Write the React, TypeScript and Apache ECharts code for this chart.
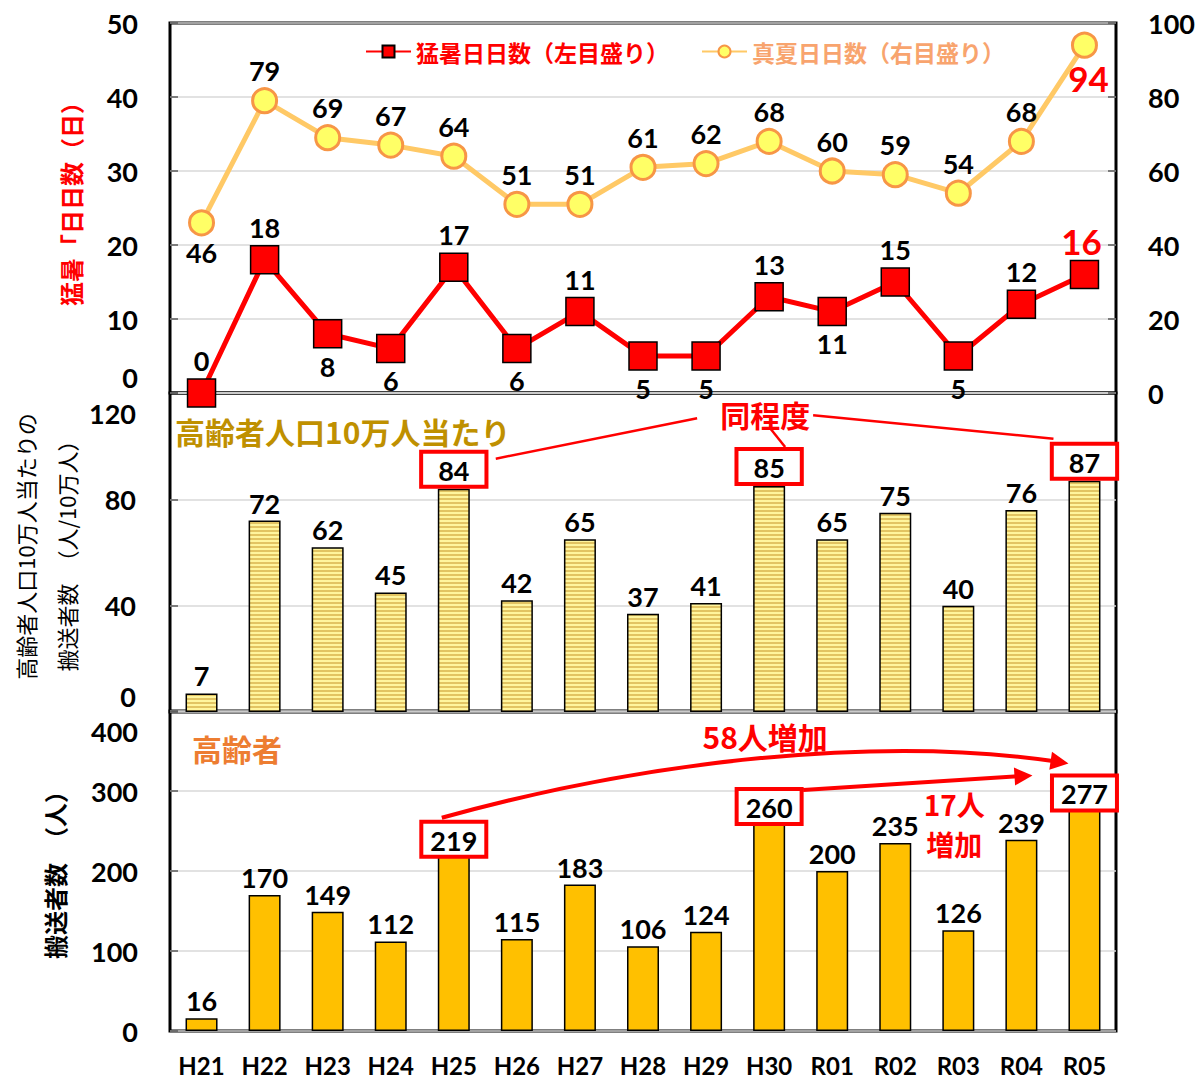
import React, { useEffect, useRef } from "react";
import * as echarts from "echarts";

const categories = ["H21", "H22", "H23", "H24", "H25", "H26", "H27", "H28", "H29", "H30", "R01", "R02", "R03", "R04", "R05"];
const extremeHeatDays = [0, 18, 8, 6, 17, 6, 11, 5, 5, 13, 11, 15, 5, 12, 16];
const midsummerDays = [46, 79, 69, 67, 64, 51, 51, 61, 62, 68, 60, 59, 54, 68, 94];
const ratePer100k = [7, 72, 62, 45, 84, 42, 65, 37, 41, 85, 65, 75, 40, 76, 87];
const elderlyTransported = [16, 170, 149, 112, 219, 115, 183, 106, 124, 260, 200, 235, 126, 239, 277];

const heatLabelPos = ["top", "top", "bottom", "bottom", "top", "bottom", "top", "bottom", "bottom", "top", "bottom", "top", "bottom", "top", "top"];
const summerLabelPos = ["bottom", "top", "top", "top", "top", "top", "top", "top", "top", "top", "top", "top", "top", "top", "bottom"];
const boxedIdx = [4, 9, 14];

const leftTicks = { min: 0, max: 50, interval: 10 };
const rightTicks = { min: 0, max: 100, interval: 20 };
const rateTicks = { min: 0, max: 120, interval: 40 };
const elderlyTicks = { min: 0, max: 400, interval: 100 };

const NUM_FONT = "Lato, 'Noto Sans CJK JP', sans-serif";
const JP_FONT = "'Noto Sans CJK JP', sans-serif";
const HEAT_NAME = "猛暑日日数（左目盛り）";
const SUMMER_NAME = "真夏日日数（右目盛り）";

function makeStripe(): HTMLCanvasElement {
  const c = document.createElement("canvas");
  c.width = 4;
  c.height = 4;
  const ctx = c.getContext("2d")!;
  ctx.fillStyle = "#FFF59D";
  ctx.fillRect(0, 0, 4, 2);
  ctx.fillStyle = "#E2C462";
  ctx.fillRect(0, 2, 4, 2);
  return c;
}

export default function App() {
  const ref = useRef<HTMLDivElement>(null);
  useEffect(() => {
    if (!ref.current) return;
    const chart = echarts.init(ref.current, undefined, { renderer: "svg" });
    const stripe = makeStripe();
    const gridL = 170;
    const gridW = 946;
    const lblStyle = { fontFamily: NUM_FONT, fontWeight: "bold" as const, fontSize: 27, color: "#000" };
    const axStyle = { fontFamily: NUM_FONT, fontWeight: "bold" as const, fontSize: 27, color: "#000" };

    const yLabel = (topShift: number, bottomShift: number, maxVal: number) => ({
      ...axStyle,
      formatter: (v: number) => (v === 0 && bottomShift ? "{dn|0}" : v === maxVal && topShift ? "{up|" + v + "}" : String(v)),
      rich: {
        dn: { ...axStyle, padding: [0, 0, bottomShift * 2, 0] },
        up: { ...axStyle, padding: [topShift * 2, 0, 0, 0] },
      },
    });

    const boxLabel = (pad: number) => ({
      backgroundColor: "#fff",
      borderColor: "#FF0000",
      borderWidth: 4,
      padding: [3, pad, 1, pad],
      distance: 4,
    });

    const option: any = {
      animation: false,
      backgroundColor: "#fff",
      legend: {
        left: 360,
        top: 35,
        itemWidth: 45,
        itemHeight: 15,
        itemGap: 32,
        textStyle: { fontFamily: JP_FONT, fontWeight: "bold", fontSize: 23 },
        data: [
          { name: HEAT_NAME, textStyle: { color: "#FF0000" } },
          { name: SUMMER_NAME, textStyle: { color: "#F8A46E" } },
        ],
      },
      grid: [
        { left: gridL, top: 23, width: gridW, height: 370, show: true, borderColor: "#000", borderWidth: 3 },
        { left: gridL, top: 393, width: gridW, height: 319, show: true, borderColor: "#000", borderWidth: 3 },
        { left: gridL, top: 711, width: gridW, height: 320, show: true, borderColor: "#000", borderWidth: 3 },
      ],
      xAxis: [0, 1, 2].map((g) => ({
        type: "category",
        gridIndex: g,
        data: categories,
        boundaryGap: true,
        axisLine: { show: false },
        axisTick: { show: false },
        axisLabel:
          g === 2
            ? { show: true, fontFamily: NUM_FONT, fontWeight: "bold", fontSize: 24, color: "#000", margin: 22 }
            : { show: false },
      })),
      yAxis: [
        {
          type: "value", gridIndex: 0, position: "left", ...leftTicks,
          axisLine: { show: false },
          axisTick: { show: true, inside: true, length: 8, lineStyle: { color: "#595959", width: 1.5 } },
          splitLine: { show: true, lineStyle: { color: "#D9D9D9", width: 1.5 } },
          axisLabel: { ...yLabel(0, 16, 50), margin: 32 },
        },
        {
          type: "value", gridIndex: 0, position: "right", ...rightTicks,
          axisLine: { show: false },
          axisTick: { show: true, inside: true, length: 8, lineStyle: { color: "#595959", width: 1.5 } },
          splitLine: { show: false },
          axisLabel: { ...axStyle, margin: 32 },
        },
        {
          type: "value", gridIndex: 1, ...rateTicks,
          axisLine: { show: false },
          axisTick: { show: true, inside: true, length: 8, lineStyle: { color: "#595959", width: 1.5 } },
          splitLine: { show: true, lineStyle: { color: "#D9D9D9", width: 1.5 } },
          axisLabel: { ...yLabel(20, 16, 120), margin: 34 },
        },
        {
          type: "value", gridIndex: 2, ...elderlyTicks,
          axisLine: { show: false },
          axisTick: { show: true, inside: true, length: 8, lineStyle: { color: "#595959", width: 1.5 } },
          splitLine: { show: true, lineStyle: { color: "#D9D9D9", width: 1.5 } },
          axisLabel: { ...yLabel(20, 0, 400), margin: 32 },
        },
      ],
      series: [
        {
          name: "高齢者人口10万人当たり",
          type: "bar",
          xAxisIndex: 1,
          yAxisIndex: 2,
          barWidth: 32,
          itemStyle: {
            color: { image: stripe, repeat: "repeat", imageWidth: 4, imageHeight: 4 },
            borderColor: "#000",
            borderWidth: 1.5,
          },
          label: { show: true, position: "top", distance: 4, ...lblStyle },
          data: ratePer100k.map((v, i) =>
            boxedIdx.includes(i) ? { value: v, label: boxLabel(15) } : v
          ),
        },
        {
          name: "高齢者",
          type: "bar",
          xAxisIndex: 2,
          yAxisIndex: 3,
          barWidth: 32,
          itemStyle: { color: "#FFC000", borderColor: "#000", borderWidth: 1.5 },
          label: { show: true, position: "top", distance: 4, ...lblStyle },
          data: elderlyTransported.map((v, i) =>
            boxedIdx.includes(i) ? { value: v, label: { ...boxLabel(7), distance: 1 } } : v
          ),
        },
        {
          name: SUMMER_NAME,
          type: "line",
          xAxisIndex: 0,
          yAxisIndex: 1,
          symbol: "circle",
          symbolSize: 24,
          lineStyle: { color: "#FFC966", width: 5 },
          itemStyle: { color: "#FFFF66", borderColor: "#F79646", borderWidth: 3 },
          label: { show: true, distance: 3, ...lblStyle },
          data: midsummerDays.map((v, i) =>
            i === midsummerDays.length - 1
              ? { value: v, label: { position: "bottom", color: "#FF0000", fontSize: 35, distance: 2, offset: [4, 0] } }
              : { value: v, label: { position: summerLabelPos[i] } }
          ),
          z: 3,
        },
        {
          name: HEAT_NAME,
          type: "line",
          xAxisIndex: 0,
          yAxisIndex: 0,
          symbol: "rect",
          symbolSize: 28,
          lineStyle: { color: "#FF0000", width: 5 },
          itemStyle: { color: "#FF0000", borderColor: "#000", borderWidth: 1.5 },
          label: { show: true, distance: 4, ...lblStyle },
          data: extremeHeatDays.map((v, i) =>
            i === extremeHeatDays.length - 1
              ? { value: v, label: { position: "top", color: "#FF0000", fontSize: 35, distance: 1, offset: [-3, 0] } }
              : { value: v, label: { position: heatLabelPos[i] } }
          ),
          z: 4,
        },
      ],
    };
    chart.setOption(option);

    const px = (xi: number, yi: number, cat: number, v: number) =>
      chart.convertToPixel({ xAxisIndex: xi, yAxisIndex: yi }, [cat, v]) as number[];
    const rateP = (i: number, v: number) => px(1, 2, i, v);
    const eldP = (i: number, v: number) => px(2, 3, i, v);

    const RED = "#FF0000";
    const jpText = (text: string, x: number, y: number, fill: string, size: number, weight = "bold", rotation = 0) => ({
      type: "text",
      x,
      y,
      rotation,
      z: 10,
      style: {
        text,
        fill,
        fontSize: size,
        fontWeight: weight,
        fontFamily: JP_FONT,
        align: "center",
        verticalAlign: "middle",
        textAlign: "center",
        textVerticalAlign: "middle",
      },
    });
    const seg = (a: number[], b: number[], w: number) => ({
      type: "line",
      z: 10,
      shape: { x1: a[0], y1: a[1], x2: b[0], y2: b[1] },
      style: { stroke: RED, lineWidth: w },
    });
    const head = (tip: number[], from: number[], len = 18, half = 9) => {
      const dx = tip[0] - from[0];
      const dy = tip[1] - from[1];
      const d = Math.hypot(dx, dy);
      const ux = dx / d, uy = dy / d;
      const bx = tip[0] - ux * len, by = tip[1] - uy * len;
      return {
        type: "polygon",
        z: 10,
        shape: { points: [tip, [bx - uy * half, by + ux * half], [bx + uy * half, by - ux * half]] },
        style: { fill: RED },
      };
    };

    // panel 2 annotations
    const same = rateP(9, 112);
    const sameCenter = [same[0] - 4, same[1]];
    const p84 = rateP(4, ratePer100k[4]);
    const p85 = rateP(9, ratePer100k[9]);
    const p87 = rateP(14, ratePer100k[14]);

    // panel 3 annotations
    const e219 = eldP(4, elderlyTransported[4]);
    const e260 = eldP(9, elderlyTransported[9]);
    const e277 = eldP(14, elderlyTransported[14]);
    const a1Start = [e219[0] - 12, e219[1] - 38];
    const a1Tip = [e277[0] - 16, e277[1] - 46];
    const a1Cp1 = [a1Start[0] + 208, a1Start[1] - 58];
    const a1Cp2 = [a1Tip[0] - 188, a1Tip[1] - 28];
    const a1Dir = [a1Tip[0] - a1Cp2[0], a1Tip[1] - a1Cp2[1]];
    const a1dl = Math.hypot(a1Dir[0], a1Dir[1]);
    const a1End = [a1Tip[0] - (a1Dir[0] / a1dl) * 14, a1Tip[1] - (a1Dir[1] / a1dl) * 14];
    const a2Start = [e260[0] + 34, e260[1] - 33];
    const a2Tip = [e277[0] - 52, e277[1] - 34];
    const a2Dir = [a2Tip[0] - a2Start[0], a2Tip[1] - a2Start[1]];
    const a2dl = Math.hypot(a2Dir[0], a2Dir[1]);
    const a2End = [a2Tip[0] - (a2Dir[0] / a2dl) * 14, a2Tip[1] - (a2Dir[1] / a2dl) * 14];
    const inc58 = eldP(9, 369);
    const inc17a = eldP(12, 284);
    const inc17b = eldP(12, 234);

    const g0 = px(0, 0, 0, 25);
    const g1 = rateP(0, 60);
    const g2 = eldP(0, 215);

    chart.setOption({
      graphic: [
        // axis names
        jpText("猛暑「日日数（日）", 70, g0[1] - 10, RED, 24, "bold", Math.PI / 2),
        jpText("高齢者人口10万人当たりの", 25, g1[1] - 6, "#000", 22, "normal", Math.PI / 2),
        jpText("搬送者数　（人/10万人）", 66, g1[1] - 2, "#000", 22, "normal", Math.PI / 2),
        jpText("搬送者数　（人）", 54, g2[1] + 10, "#000", 24, "bold", Math.PI / 2),
        // panel 2
        {
          type: "text",
          x: gridL + 5,
          y: 431,
          z: 10,
          style: {
            text: "高齢者人口10万人当たり",
            fill: "#BF9000",
            fontSize: 30,
            fontWeight: "bold",
            fontFamily: JP_FONT,
            align: "left",
            verticalAlign: "middle",
            textAlign: "left",
            textVerticalAlign: "middle",
          },
        },
        jpText("同程度", sameCenter[0], sameCenter[1], RED, 30),
        seg([sameCenter[0] - 68, sameCenter[1] + 4], [p84[0] + 42, p84[1] - 30], 2.5),
        seg([sameCenter[0] + 5, sameCenter[1] + 14], [p85[0] + 16, p85[1] - 39], 2.5),
        seg([sameCenter[0] + 48, sameCenter[1] + 1], [p87[0] - 31, p87[1] - 42], 2.5),
        // panel 3
        {
          type: "text",
          x: gridL + 22,
          y: 748,
          z: 10,
          style: {
            text: "高齢者",
            fill: "#ED7D31",
            fontSize: 30,
            fontWeight: "bold",
            fontFamily: JP_FONT,
            align: "left",
            verticalAlign: "middle",
            textAlign: "left",
            textVerticalAlign: "middle",
          },
        },
        jpText("58人増加", inc58[0] - 4, inc58[1], RED, 30),
        jpText("17人", inc17a[0] - 4, inc17a[1], RED, 28),
        jpText("増加", inc17b[0] - 4, inc17b[1], RED, 28),
        {
          type: "bezierCurve",
          z: 10,
          shape: {
            x1: a1Start[0], y1: a1Start[1],
            cpx1: a1Cp1[0], cpy1: a1Cp1[1],
            cpx2: a1Cp2[0], cpy2: a1Cp2[1],
            x2: a1End[0], y2: a1End[1],
          },
          style: { stroke: RED, lineWidth: 4, fill: "none" },
        },
        head(a1Tip, a1Cp2),
        seg(a2Start, a2End, 4),
        head(a2Tip, a2Start),
      ],
    });

    return () => chart.dispose();
  }, []);
  return <div ref={ref} style={{ position: "absolute", left: 0, top: 0, width: 1200, height: 1078 }} />;
}
